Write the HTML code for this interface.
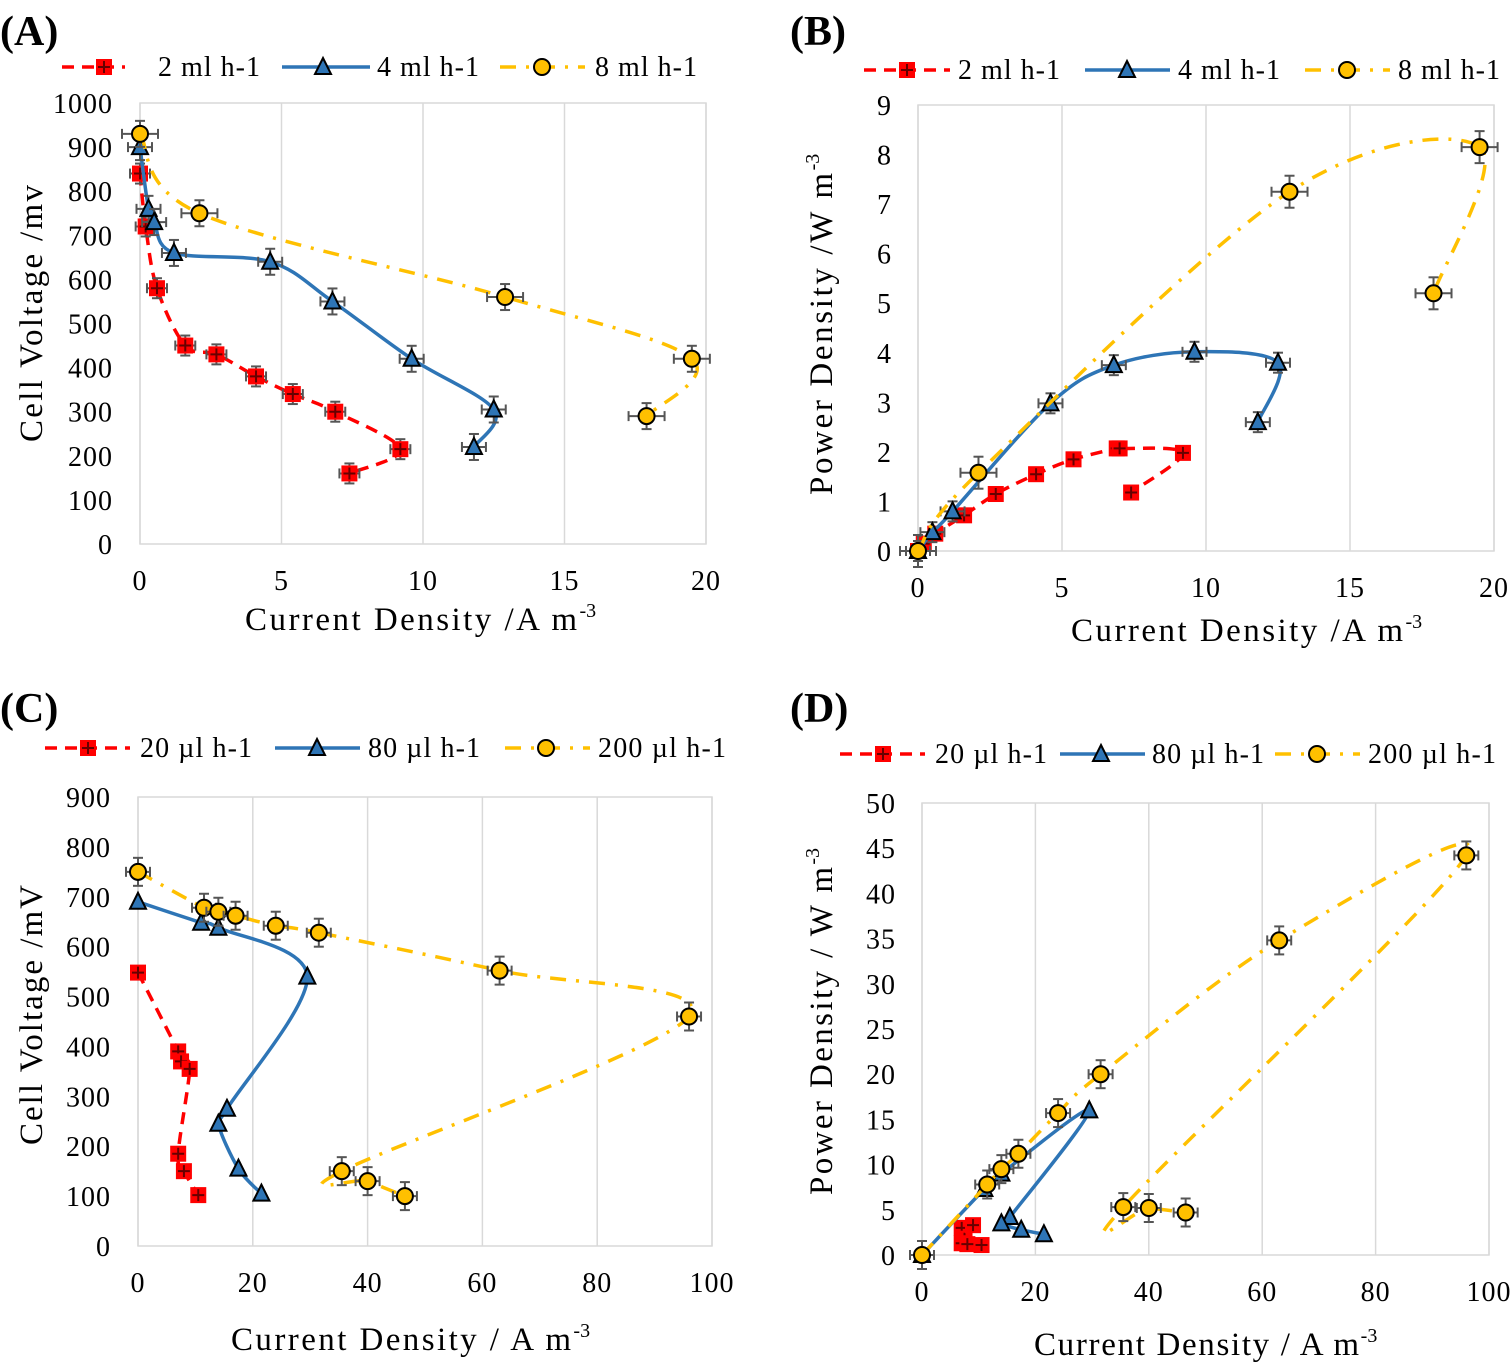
<!DOCTYPE html>
<html><head><meta charset="utf-8"><style>
html,body{margin:0;padding:0;background:#fff;}
svg{display:block;font-family:"Liberation Serif",serif;}
</style></head><body>
<svg id="s" width="1511" height="1362" xmlns="http://www.w3.org/2000/svg"></svg>
<script>
const S=document.getElementById('s');let h='';
const RED='#ff0000',BLUE='#2e75b6',YEL='#ffc000';
function P(cfg){
 const {x0,x1,y0,y1,xmax,ymax,xticks,yticks,ylabx}=cfg;
 const X=v=>x0+(x1-x0)*v/xmax, Y=v=>y0-(y0-y1)*v/ymax;
 h+=`<rect x="${x0}" y="${y1}" width="${x1-x0}" height="${y0-y1}" fill="none" stroke="#d9d9d9" stroke-width="1.5"/>`;
 xticks.forEach(t=>{h+=`<line x1="${X(t)}" x2="${X(t)}" y1="${y1}" y2="${y0}" stroke="#d9d9d9" stroke-width="1.5"/>`;
  h+=`<text x="${X(t)}" y="${y0+46}" font-size="28" text-anchor="middle" letter-spacing="1">${t}</text>`;});
 yticks.forEach(t=>{h+=`<text x="${ylabx}" y="${Y(t)+10}" font-size="28" text-anchor="end" letter-spacing="1">${t}</text>`;});
 return {X,Y};
}
function smooth(p){
 let d=`M${p[0][0].toFixed(1)},${p[0][1].toFixed(1)}`;
 for(let i=0;i<p.length-1;i++){
  const a=p[i-1]||p[i],b=p[i],c=p[i+1],e=p[i+2]||c;
  const c1=[b[0]+(c[0]-a[0])/6,b[1]+(c[1]-a[1])/6],c2=[c[0]-(e[0]-b[0])/6,c[1]-(e[1]-b[1])/6];
  d+=` C${c1[0].toFixed(1)},${c1[1].toFixed(1)} ${c2[0].toFixed(1)},${c2[1].toFixed(1)} ${c[0].toFixed(1)},${c[1].toFixed(1)}`;}
 return d;
}
function series(m,pts,color,type,eb,ev){
 const sp=pts.map(p=>[m.X(p[0]),m.Y(p[1])]);
 let dash=type=='sq'?'stroke-dasharray="12,8"':type=='ci'?'stroke-dasharray="16,10,3,10"':'';
 h+=`<path d="${smooth(sp)}" fill="none" stroke="${color}" stroke-width="3.5" ${dash} stroke-linejoin="round"/>`;
 ev=ev===undefined?13:ev;
 sp.forEach(([x,y])=>{
  if(eb){h+=`<g stroke="#555" stroke-width="2"><line x1="${x-eb}" x2="${x+eb}" y1="${y}" y2="${y}"/><line x1="${x-eb}" x2="${x-eb}" y1="${y-5}" y2="${y+5}"/><line x1="${x+eb}" x2="${x+eb}" y1="${y-5}" y2="${y+5}"/><line x1="${x}" x2="${x}" y1="${y-ev}" y2="${y+ev}"/><line x1="${x-5}" x2="${x+5}" y1="${y-ev}" y2="${y-ev}"/><line x1="${x-5}" x2="${x+5}" y1="${y+ev}" y2="${y+ev}"/></g>`;}
  mark(x,y,type);});
}
function mark(x,y,t){
 if(t=='sq')h+=`<rect x="${x-8}" y="${y-8}" width="16" height="16" fill="${RED}"/><path d="M${x-6} ${y}H${x+6}M${x} ${y-6}V${y+6}" stroke="#600" stroke-width="2"/>`;
 else if(t=='tr')h+=`<polygon points="${x},${y-9} ${x+8},${y+7} ${x-8},${y+7}" fill="${BLUE}" stroke="#000" stroke-width="2"/>`;
 else h+=`<circle cx="${x}" cy="${y}" r="8" fill="${YEL}" stroke="#000" stroke-width="2"/>`;
}
function legend(y,items){items.forEach(([a,b,mx,tx,c,t,txt,w])=>{
 let dash=t=='sq'?'stroke-dasharray="12,8"':t=='ci'?'stroke-dasharray="16,10,3,10"':'';
 h+=`<line x1="${a}" x2="${b}" y1="${y}" y2="${y}" stroke="${c}" stroke-width="3.5" ${dash}/>`;mark(mx,y,t);
 h+=`<text x="${tx}" y="${y+9}" font-size="28" textLength="${w}" lengthAdjust="spacing">${txt}</text>`;});}
function title2(x,y,txt,w,rot,nosup){h+=`<text x="${x}" y="${y}" font-size="33" ${rot?`transform="rotate(-90 ${x} ${y})"`:''}><tspan textLength="${w}" lengthAdjust="spacing">${txt}</tspan>${nosup?'':'<tspan font-size="20" dy="-13">-3</tspan>'}</text>`;}
function lab(x,y,t){h+=`<text x="${x}" y="${y}" font-size="42" font-weight="bold">${t}</text>`;}
// A
let A=P({x0:140,x1:706,y0:544,y1:103,xmax:20,ymax:1000,xticks:[0,5,10,15,20],yticks:[0,100,200,300,400,500,600,700,800,900,1000],ylabx:113});
series(A,[[0,840],[0.2,720],[0.6,580],[1.6,450],[2.7,430],[4.1,380],[5.4,340],[6.9,300],[9.2,215],[7.4,160]],RED,'sq',10,10);
series(A,[[0,900],[0.3,760],[0.5,730],[1.2,660],[4.6,640],[6.8,550],[9.6,420],[12.5,305],[11.8,220]],BLUE,'tr',12,13);
series(A,[[0,930],[2.1,750],[12.9,560],[19.5,420],[17.9,290]],YEL,'ci',18,13);
legend(67,[[62,125,104,158,RED,'sq','2 ml h-1',102],[282,370,323,377,BLUE,'tr','4 ml h-1',102],[500,585,542,595,YEL,'ci','8 ml h-1',102]]);
title2(245,630,'Current Density /A m',332);title2(42,442,'Cell Voltage /mv',257,1,1);lab(0,45,'(A)');
// B
let B=P({x0:918,x1:1494,y0:551,y1:105,xmax:20,ymax:9,xticks:[0,5,10,15,20],yticks:[0,1,2,3,4,5,6,7,8,9],ylabx:892});
series(B,[[0,0],[0.2,0.15],[0.6,0.35],[1.6,0.72],[2.7,1.15],[4.1,1.55],[5.4,1.85],[6.9,2.07],[7.0,2.07],[9.2,1.98],[7.4,1.18]],RED,'sq',0);
series(B,[[0,0],[0.5,0.38],[1.2,0.8],[4.6,2.98],[6.8,3.75],[9.6,4.02],[12.5,3.8],[11.8,2.6]],BLUE,'tr',12,10);
series(B,[[0,0],[2.1,1.58],[12.9,7.25],[19.5,8.15],[17.9,5.2]],YEL,'ci',18,16);
legend(70,[[864,950,907,958,RED,'sq','2 ml h-1',102],[1085,1170,1127,1178,BLUE,'tr','4 ml h-1',102],[1305,1390,1347,1398,YEL,'ci','8 ml h-1',102]]);
title2(1071,641,'Current Density /A m',332);title2(832,495,'Power Density /W m',322,1);lab(790,45,'(B)');
// C
let C=P({x0:138,x1:712,y0:1246,y1:797,xmax:100,ymax:900,xticks:[0,20,40,60,80,100],yticks:[0,100,200,300,400,500,600,700,800,900],ylabx:111});
series(C,[[0,548],[7,390],[7.5,370],[9,355],[7,185],[8,150],[10.5,102]],RED,'sq',0);
series(C,[[0,690],[11,648],[14,638],[29.5,540],[15.5,275],[14,245],[17.5,155],[21.5,105]],BLUE,'tr',0);
series(C,[[0,750],[11.5,678],[14,670],[17,662],[24,642],[31.5,628],[63,552],[96,460],[35.5,150],[40,130],[46.5,100]],YEL,'ci',12,14);
legend(748,[[45,130,88,140,RED,'sq','20 µl h-1',112],[275,360,317,368,BLUE,'tr','80 µl h-1',112],[505,590,546,598,YEL,'ci','200 µl h-1',128]]);
title2(231,1350,'Current Density / A m',340);title2(42,1145,'Cell Voltage /mV',260,1,1);lab(0,722,'(C)');
// D
let D=P({x0:922,x1:1489,y0:1255,y1:803,xmax:100,ymax:50,xticks:[0,20,40,60,80,100],yticks:[0,5,10,15,20,25,30,35,40,45,50],ylabx:896});
series(D,[[7,3],[7.5,1.8],[9,3.3],[7,1.3],[8,1.2],[10.5,1.1]],RED,'sq',0);
series(D,[[0,0],[11,7.3],[14,9],[29.5,16],[15.5,4.2],[14,3.5],[17.5,2.8],[21.5,2.3]],BLUE,'tr',0);
series(D,[[0,0],[11.5,7.8],[14,9.5],[17,11.2],[24,15.7],[31.5,20],[63,34.8],[96,44.2],[35.5,5.3],[40,5.2],[46.5,4.7]],YEL,'ci',12,14);
legend(754,[[840,925,883,935,RED,'sq','20 µl h-1',112],[1060,1145,1101,1152,BLUE,'tr','80 µl h-1',112],[1275,1360,1317,1368,YEL,'ci','200 µl h-1',128]]);
title2(1034,1355,'Current Density / A m',325);title2(832,1195,'Power Density / W m',328,1);lab(790,722,'(D)');
S.innerHTML=h;
</script>
</body></html>
